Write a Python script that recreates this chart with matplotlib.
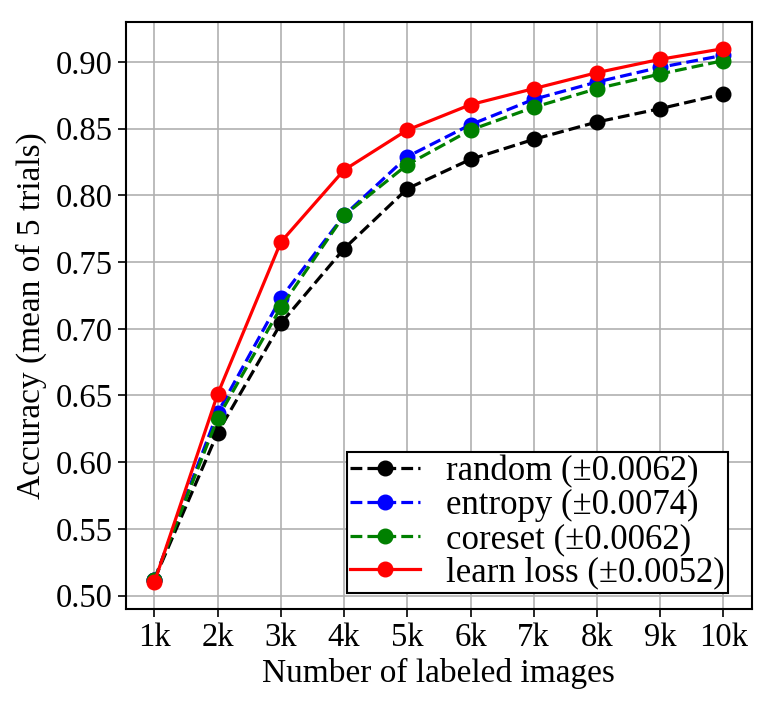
import matplotlib
matplotlib.use('Agg')
import matplotlib.pyplot as plt

plt.rcParams['font.family'] = ['Liberation Serif', 'DejaVu Serif']

x_labels = ['1k', '2k', '3k', '4k', '5k', '6k', '7k', '8k', '9k', '10k']
n_labeled = [1, 2, 3, 4, 5, 6, 7, 8, 9, 10]

acc_random = [0.512, 0.622, 0.704, 0.760, 0.805, 0.827, 0.842, 0.855, 0.865, 0.876]
acc_entropy = [0.512, 0.637, 0.723, 0.785, 0.829, 0.853, 0.872, 0.885, 0.896, 0.905]
acc_coreset = [0.512, 0.633, 0.716, 0.785, 0.823, 0.849, 0.866, 0.880, 0.891, 0.901]
acc_learnloss = [0.510, 0.651, 0.765, 0.819, 0.849, 0.868, 0.880, 0.892, 0.902, 0.910]

fig = plt.figure(figsize=(7.68, 7.08), dpi=100)
ax = fig.add_axes([0.164, 0.140, 0.815, 0.829])

ms = 10.5
lw = 2.3
ax.plot(n_labeled, acc_random, 'o--', color='black', ms=ms, lw=lw, label='random (±0.0062)')
ax.plot(n_labeled, acc_entropy, 'o--', color='blue', ms=ms, lw=lw, label='entropy (±0.0074)')
ax.plot(n_labeled, acc_coreset, 'o--', color='green', ms=ms, lw=lw, label='coreset (±0.0062)')
ax.plot(n_labeled, acc_learnloss, 'o-', color='red', ms=ms, lw=lw, label='learn loss (±0.0052)')

ax.set_xticks(n_labeled)
ax.set_xticklabels(x_labels)
ax.set_yticks([0.50, 0.55, 0.60, 0.65, 0.70, 0.75, 0.80, 0.85, 0.90])
ax.grid(True, color='#b0b0b0', lw=1.2)
ax.set_axisbelow(True)
ax.tick_params(labelsize=23.5, length=6, width=1.2)
for s in ax.spines.values():
    s.set_linewidth(1.5)

ax.set_xlabel('Number of labeled images', fontsize=24, labelpad=4)
ax.set_ylabel('Accuracy (mean of 5 trials)', fontsize=24, labelpad=6)

leg = ax.legend(loc='lower right', bbox_to_anchor=(0.962, 0.027), fontsize=25,
                fancybox=False, edgecolor='black', framealpha=1,
                labelspacing=0.02, handlelength=2.0, handletextpad=0.75,
                borderpad=0.1, borderaxespad=0.0)
leg.get_frame().set_linewidth(1.5)

fig.savefig('out.png', dpi=100)
